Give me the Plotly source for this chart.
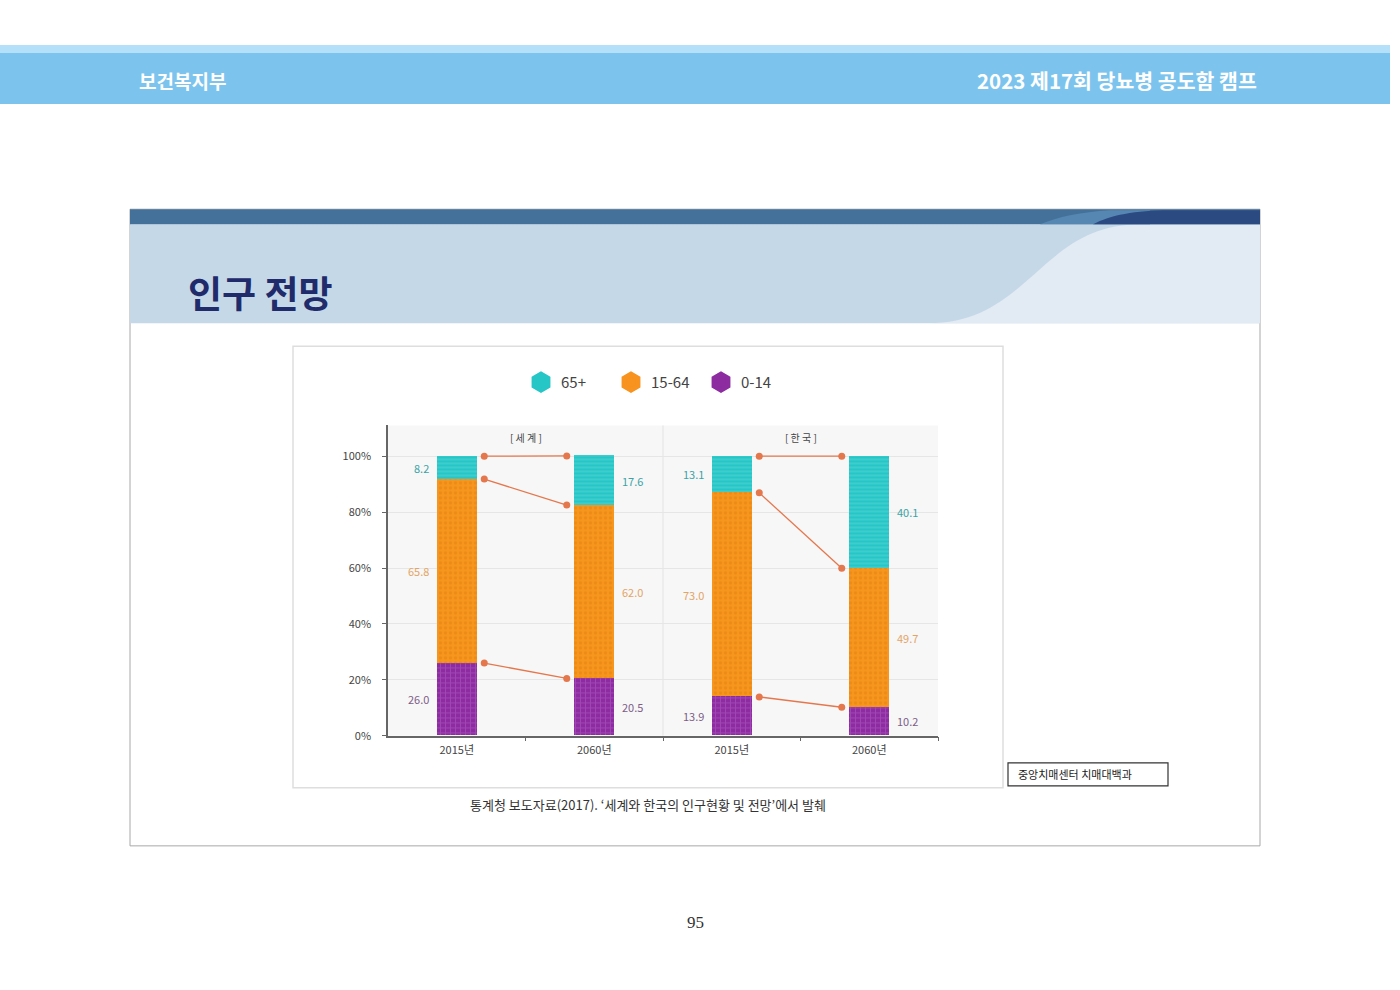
import plotly.graph_objects as go

# ---------------- data ----------------
categories = ["2015년", "2060년", "2015년", "2060년"]
panels = ["[ 세 계 ]", "[ 한 국 ]"]
age_0_14 = [26.0, 20.5, 13.9, 10.2]
age_15_64 = [65.8, 62.0, 73.0, 49.7]
age_65p = [8.2, 17.6, 13.1, 40.1]
y_ticks = [0, 20, 40, 60, 80, 100]
y_ticktext = ["0%", "20%", "40%", "60%", "80%", "100%"]

W, H = 1400, 990
H_EFF = 982  # observed effective vertical extent of the rendered page
def px(x):
    return x / W
def py(y):
    return 1 - y / H_EFF

FONT = "Noto Sans CJK KR"
C_CYAN, C_ORANGE, C_PURPLE = "#27c6c6", "#f7931e", "#8c2ca0"
C_LINE = "#e5774c"

xs = list(range(len(categories)))
fig = go.Figure()

series = [
    ("0-14", age_0_14, C_PURPLE, dict(shape="+", bgcolor="#8c2ca0", fgcolor="#b65ec8", size=5, solidity=0.35), "#7d5d88"),
    ("15-64", age_15_64, C_ORANGE, dict(shape=".", bgcolor="#f7961f", fgcolor="#e27f0c", size=5, solidity=0.35), "#e3a466"),
    ("65+", age_65p, C_CYAN, dict(shape="-", bgcolor="#27c6c6", fgcolor="#6ad9d9", size=4, solidity=0.35), "#3aa3a6"),
]

for name, vals, col, pat, _ in series:
    fig.add_trace(go.Bar(
        x=xs, y=vals, width=0.29, name=name, showlegend=False,
        marker=dict(color=col, pattern=pat, line=dict(width=0)),
        hoverinfo="skip",
    ))

# legend-only hexagon entries (order: 65+, 15-64, 0-14)
for name, vals, col, pat, _ in reversed(series):
    fig.add_trace(go.Scatter(
        x=[None], y=[None], mode="markers", name=name,
        marker=dict(symbol="hexagon", size=16, color=col, line=dict(color=col, width=5)),
    ))

# connectors between stacked boundaries
cum1 = age_0_14
cum2 = [a + b for a, b in zip(age_0_14, age_15_64)]
cum3 = [a + b + c for a, b, c in zip(age_0_14, age_15_64, age_65p)]
for g in (0, 2):
    for lev in (cum1, cum2, cum3):
        fig.add_trace(go.Scatter(
            x=[g + 0.2, g + 0.8], y=[lev[g], lev[g + 1]], mode="lines+markers",
            line=dict(color=C_LINE, width=1.3), marker=dict(color=C_LINE, size=7),
            showlegend=False, hoverinfo="skip",
        ))

annotations = []
# value labels
bases = [[0] * 4, cum1, cum2]
for (name, vals, col, pat, lcol), base in zip(series, bases):
    for i, v in enumerate(vals):
        left = (i % 2 == 0)
        annotations.append(dict(
            x=i - 0.19 if left else i + 0.19, y=base[i] + v / 2, xref="x", yref="y",
            text=f"{v:.1f}", showarrow=False, xanchor="right" if left else "left", yanchor="middle",
            font=dict(family=FONT, size=11, color=lcol),
        ))
# panel titles
for k, t in enumerate(panels):
    annotations.append(dict(x=2 * k + 0.5, y=py(437), xref="x", yref="paper", text=t,
                            showarrow=False, yanchor="middle",
                            font=dict(family=FONT, size=10, color="#444")))

def txt(x, y, text, size, color, xanchor="center", family=FONT):
    return dict(x=px(x), y=py(y), xref="paper", yref="paper", text=text, showarrow=False,
                xanchor=xanchor, yanchor="middle", font=dict(family=family, size=size, color=color))

# page texts
annotations += [
    txt(137, 80, "<b>보건복지부</b>", 19, "white", "left"),
    txt(1259, 80, "<b>2023 제17회 당뇨병 공도함 캠프</b>", 20.5, "white", "right"),
    txt(186, 292, "<b>인구 전망</b>", 37, "#1f2b6b", "left"),
    txt(648, 804, "통계청 보도자료(2017). ‘세계와 한국의 인구현황 및 전망’에서 발췌", 13, "#333"),
    txt(1016, 773, "중앙치매센터 치매대백과", 11, "#222", "left"),
    txt(695, 922, "95", 17, "#333", "center", "Liberation Serif"),
]

def rect(x0, y0, x1, y1, fill, line=None, lw=0, layer="below"):
    return dict(type="rect", xref="paper", yref="paper", x0=px(x0), x1=px(x1), y0=py(y1), y1=py(y0),
                fillcolor=fill, line=dict(color=line or fill, width=lw), layer=layer)

def path(pts_cmd, fill):
    return dict(type="path", xref="paper", yref="paper", path=pts_cmd, fillcolor=fill,
                line=dict(width=0), layer="below")

def P(x, y):
    return f"{px(x):.5f},{py(y):.5f}"

shapes = [
    # header bands
    rect(0, 45, 1390, 53, "#b5e0fa"),
    rect(0, 53, 1390, 104, "#7cc4ee"),
    # slide box
    rect(130, 209, 1260, 845, "white", "#a8a8a8", 1),
    rect(130, 224, 1260, 323, "#c5d8e8"),
    path(f"M {P(928,323)} C {P(1030,323)} {P(1040,224)} {P(1140,224)} L {P(1260,224)} L {P(1260,323)} Z", "#e2eaf3"),
    rect(130, 209, 1260, 224, "#43719a"),
    path(f"M {P(1040,224)} C {P(1060,216)} {P(1080,212)} {P(1110,210)} L {P(1150,210)} L {P(1150,224)} Z", "#5687b2"),
    path(f"M {P(1093,224)} C {P(1110,215)} {P(1135,210)} {P(1170,210)} L {P(1260,210)} L {P(1260,224)} Z", "#2b4a82"),
    # chart image box
    rect(293, 346, 1003, 787, "white", "#dedede", 1.5),
    # plot background
    rect(388, 425, 938, 735, "#f7f7f7"),
    # panel separator
    dict(type="line", xref="x", yref="paper", x0=1.5, x1=1.5, y0=py(735), y1=py(425),
         line=dict(color="#e3e3e3", width=1), layer="below"),
    # source box
    rect(1008, 762, 1168, 785, "white", "#333", 1.2),
]

fig.update_layout(
    width=W, height=H, margin=dict(l=0, r=0, t=0, b=0),
    paper_bgcolor="white", plot_bgcolor="rgba(0,0,0,0)",
    barmode="stack", bargap=0,
    shapes=shapes, annotations=annotations,
    legend=dict(orientation="h", x=px(521), y=py(382), xanchor="left", yanchor="middle",
                traceorder="normal", bgcolor="rgba(0,0,0,0)", entrywidth=45,
                font=dict(family=FONT, size=15, color="#444"), itemclick=False),
    xaxis=dict(domain=[px(388), px(938)], range=[-0.5, 3.5], tickvals=xs, ticktext=categories,
               showgrid=False, zeroline=False, showline=True, linecolor="#666", linewidth=1.5,
               ticks="", ticklabelstandoff=3, tickfont=dict(family=FONT, size=11, color="#444"),
               minor=dict(tickvals=[0.5, 1.5, 2.5, 3.5], ticks="outside", ticklen=4, tickcolor="#666")),
    yaxis=dict(domain=[py(735), py(425)], range=[0, 111], tickvals=y_ticks, ticktext=y_ticktext,
               showgrid=True, gridcolor="#e6e6e6", gridwidth=1, zeroline=False,
               showline=True, linecolor="#666", linewidth=1.5, ticks="outside", ticklen=4, tickcolor="#666",
               ticklabelstandoff=9, tickfont=dict(family=FONT, size=11, color="#444")),
    font=dict(family=FONT),
)

fig.write_html("out.html")
